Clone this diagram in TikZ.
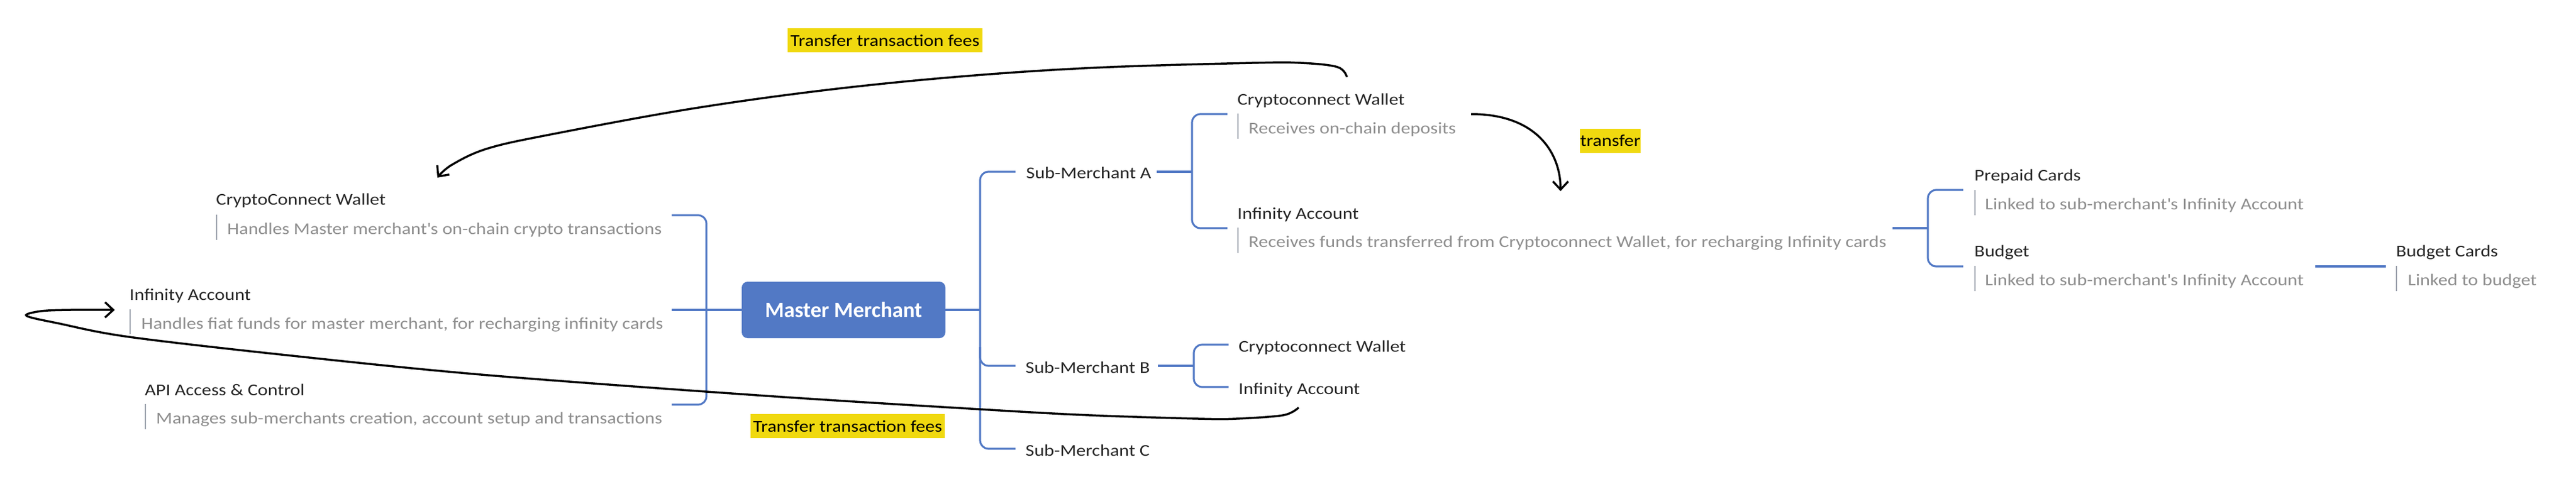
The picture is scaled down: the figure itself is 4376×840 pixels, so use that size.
\documentclass[tikz,border=0pt]{standalone}
\usepackage{fontspec}
\setmainfont{Carlito}
\newfontfamily\wideface{Carlito}[FakeStretch=1.152]
\usetikzlibrary{arrows.meta}
\definecolor{mmblue}{RGB}{82,121,197}
\definecolor{ttext}{RGB}{38,38,38}
\definecolor{dtext}{RGB}{142,142,142}
\definecolor{barc}{RGB}{157,163,174}
\definecolor{hl}{RGB}{240,217,15}
\begin{document}
\begin{tikzpicture}[x=1pt,y=-1pt,
  title/.style={anchor=base west, inner sep=0pt, text=ttext, font=\wideface\fontsize{28}{30}\selectfont},
  desc/.style={anchor=base west, inner sep=0pt, text=dtext, font=\wideface\fontsize{28}{30}\selectfont},
  bar/.style={draw=barc, line width=2.5pt},
  branch/.style={draw=mmblue, line width=3.2pt, rounded corners=14pt},
  flow/.style={draw=black, line width=3.5pt, -{Straight Barb[length=14pt,width=26pt]}},
  hlbox/.style={fill=hl, inner sep=0pt, text=black, font=\wideface\fontsize{28}{30}\selectfont},
  master/.style={fill=mmblue, rounded corners=10pt, minimum width=346pt, minimum height=96pt, text=white, font=\fontsize{37}{40}\selectfont\bfseries}
]
\useasboundingbox (0,0) rectangle (4376,840);

% master
\node[master] (mm) at (1433,527) {Master Merchant};

% left side
\node[title] (lcw) at (367,348) {CryptoConnect Wallet};
\draw[bar] (368,365) -- (368,408);
\node[desc] (lcwd) at (386,398) {Handles Master merchant\textquotesingle s on-chain crypto transactions};

\node[title] (lia) at (220,510) {Infinity Account};
\draw[bar] (221,526) -- (221,568);
\node[desc] (liad) at (240,559) {Handles fiat funds for master merchant, for recharging infinity cards};

\node[title] (lapi) at (246,672) {API Access \& Control};
\draw[bar] (247,687) -- (247,730);
\node[desc] (lapid) at (265,720) {Manages sub-merchants creation, account setup and transactions};

\draw[branch] (1141,366) -- (1200,366) -- (1200,688) -- (1141,688);
\draw[branch] (1141,527) -- (mm.west);

% sub-merchants
\node[title] (sma) at (1743,303) {Sub-Merchant A};
\node[title] (smb) at (1742,634) {Sub-Merchant B};
\node[title] (smc) at (1742,775) {Sub-Merchant C};
\draw[branch] (mm.east) -- (1665,527);
\draw[branch] (1725,292) -- (1665,292) -- (1665,763) -- (1725,763);
\draw[branch] (1665,590) -- (1665,622) -- (1725,622);

% sub-merchant A
\draw[branch] (1965,292) -- (2025,292);
\draw[branch] (2085,194) -- (2025,194) -- (2025,388) -- (2085,388);
\node[title] (acw) at (2102,178) {Cryptoconnect Wallet};
\draw[bar] (2103,193) -- (2103,236);
\node[desc] (acwd) at (2121,227) {Receives on-chain deposits};
\node[title] (aia) at (2102,372) {Infinity Account};
\draw[bar] (2103,387) -- (2103,430);
\node[desc] (aiad) at (2121,420) {Receives funds transferred from Cryptoconnect Wallet, for recharging Infinity cards};

% sub-merchant B
\draw[branch] (1967,622) -- (2028,622);
\draw[branch] (2087,586) -- (2028,586) -- (2028,658) -- (2087,658);
\node[title] (bcw) at (2104,598) {Cryptoconnect Wallet};
\node[title] (bia) at (2104,670) {Infinity Account};

% cards
\draw[branch] (3215,388) -- (3275,388);
\draw[branch] (3335,323) -- (3275,323) -- (3275,453) -- (3335,453);
\node[title] (pc) at (3354,307) {Prepaid Cards};
\draw[bar] (3355,323) -- (3355,366);
\node[desc] (pcd) at (3372,356) {Linked to sub-merchant\textquotesingle s Infinity Account};
\node[title] (bud) at (3354,436) {Budget};
\draw[bar] (3355,452) -- (3355,495);
\node[desc] (budd) at (3372,485) {Linked to sub-merchant\textquotesingle s Infinity Account};
\draw[branch] (3933,453) -- (4053,453);
\node[title] (bc) at (4070,436) {Budget Cards};
\draw[bar] (4071,452) -- (4071,495);
\node[desc] (bcd) at (4090,485) {Linked to budget};

% highlight labels
\node[hlbox, minimum width=331pt, minimum height=41pt] (fees1) at (1503.5,68.5) {Transfer transaction fees};
\node[hlbox, minimum width=330pt, minimum height=41pt] (fees2) at (1440,724.5) {Transfer transaction fees};
\node[hlbox, minimum width=103pt, minimum height=41pt] (tr) at (2735.5,239.5) {transfer};

% flows
\coordinate (topS) at (2288,131);
\coordinate (topE) at (743,302);
\draw[flow] plot[smooth, tension=0.6] coordinates {(topS) (2272,114) (2210,107) (2127,107) (1863,115) (1633,130) (1404,153) (1174,185) (944,227) (830,252) (768,280) (topE)};

\coordinate (botS) at (2206,693);
\coordinate (botE) at (195,527);
\draw[flow] plot[smooth, tension=0.55] coordinates {(botS) (2180,706) (2100,712) (2036,712) (1850,706) (1666,696) (1300,673) (829,638) (497,605) (220,573) (100,550) (45,537) (70,529) (120,527) (botE)};

\coordinate (trS) at (2499,194);
\coordinate (trE) at (2651,325);
\draw[flow] (trS) .. controls (2610,194) and (2651,260) .. (trE);
\end{tikzpicture}
\end{document}
